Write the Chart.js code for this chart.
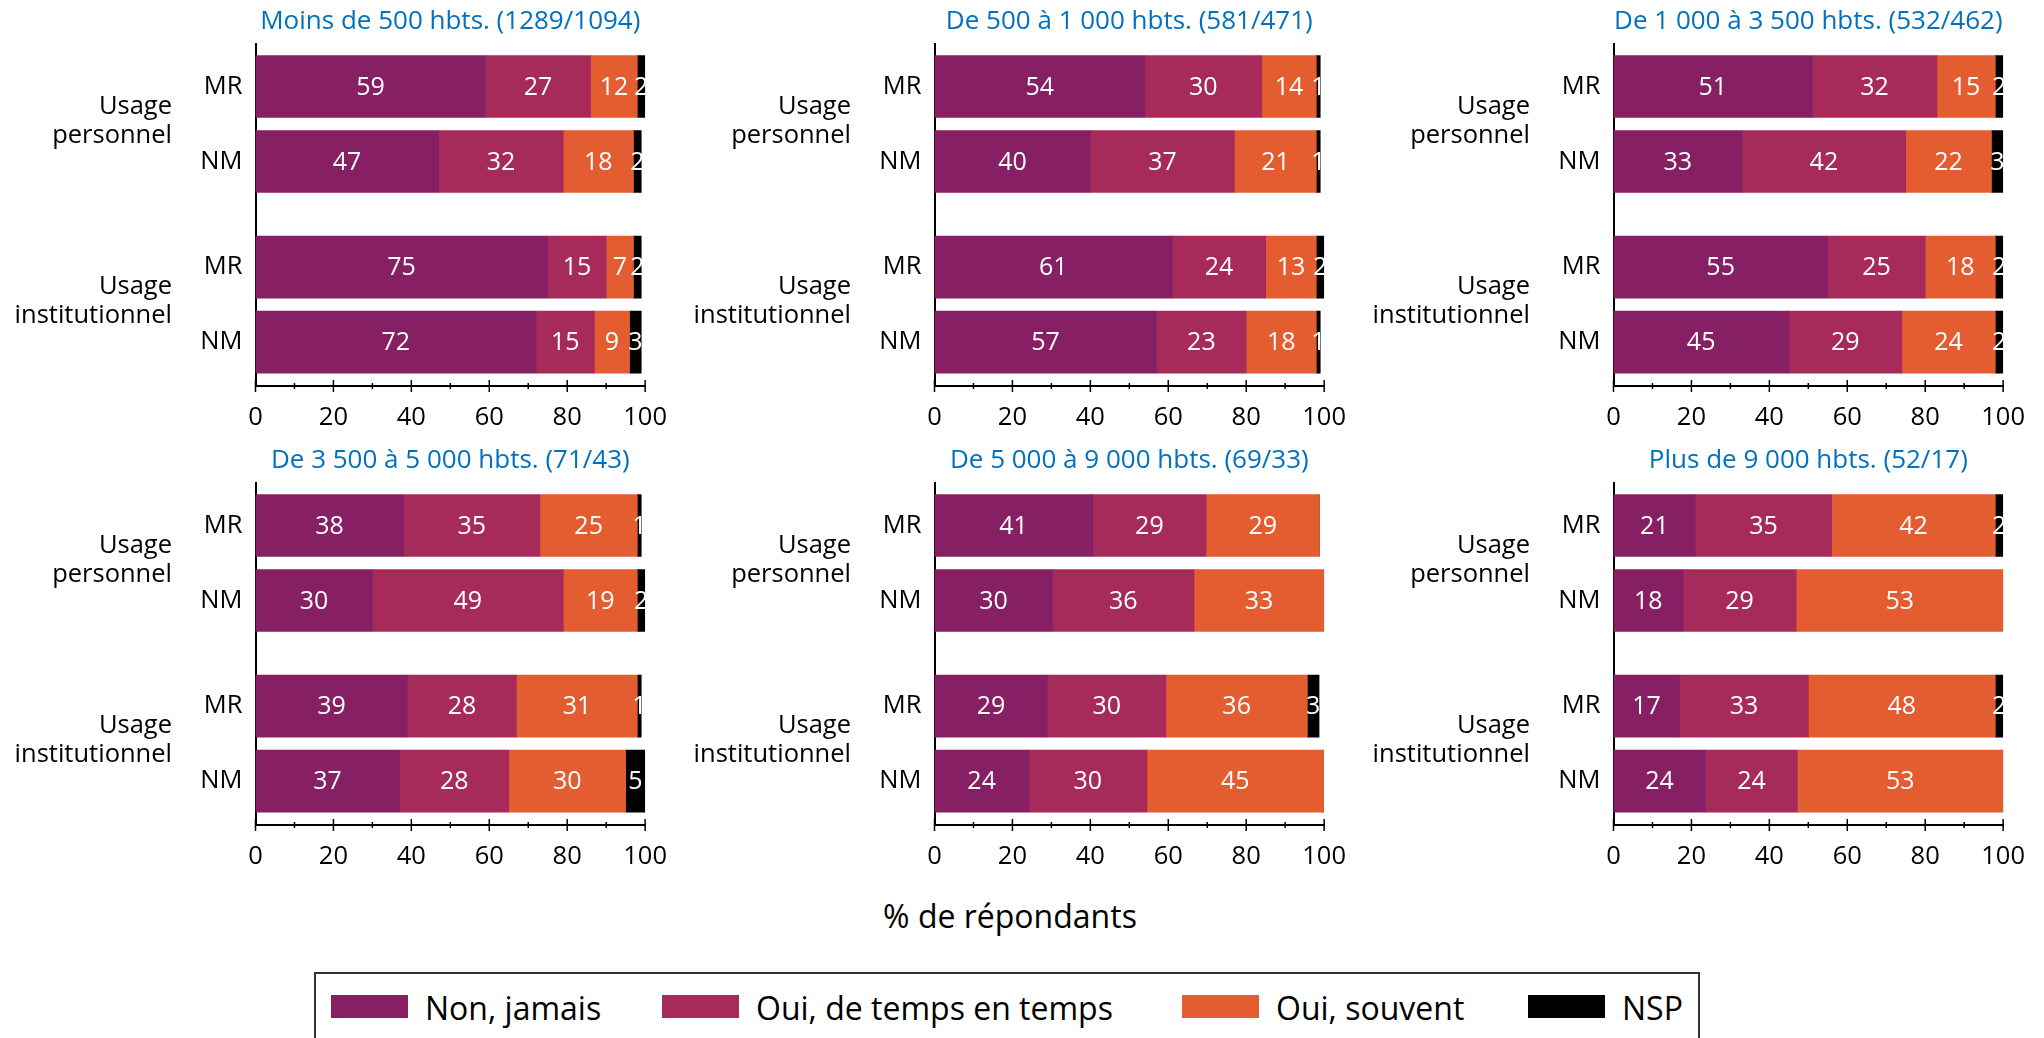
<!DOCTYPE html>
<html lang="fr">
<head>
<meta charset="utf-8">
<title>Usage selon la taille de la commune</title>
<script src="https://cdn.jsdelivr.net/npm/chart.js@4.4.1/dist/chart.umd.min.js"></script>
<style>
  html, body { margin: 0; padding: 0; background: #fff; }
  body { width: 2044px; height: 1038px; position: relative; overflow: hidden; font-family: 'Open Sans', sans-serif; }
  .panel { position: absolute; width: 683px; height: 440px; }
  #xtitle { position: absolute; left: 0; width: 2020px; top: 894px; line-height: 44px; text-align: center; font-size: 32px; color: #000; }
  #legend { position: absolute; left: 314px; top: 972px; width: 1386px; height: 90px; border: 2px solid #333; box-sizing: border-box; }
  .lg-box { position: absolute; top: 21px; width: 77px; height: 23px; }
  .lg-text { position: absolute; top: 12px; line-height: 44px; font-size: 32px; color: #000; white-space: nowrap; }
</style>
</head>
<body>
<div id="xtitle">% de répondants</div>
<div id="legend"></div>
<script>
const panelTitles = [
    'Moins de 500 hbts. (1289/1094)',
    'De 500 à 1 000 hbts. (581/471)',
    'De 1 000 à 3 500 hbts. (532/462)',
    'De 3 500 à 5 000 hbts. (71/43)',
    'De 5 000 à 9 000 hbts. (69/33)',
    'Plus de 9 000 hbts. (52/17)',
];
const rowLabels = ['MR', 'NM', 'MR', 'NM'];
const groupLabels = [['Usage', 'personnel'], ['Usage', 'institutionnel']];
const seriesNames = ['Non, jamais', 'Oui, de temps en temps', 'Oui, souvent', 'NSP'];

// one row per panel: [perso MR, perso NM, instit MR, instit NM]
const nonJamais = [
    [59, 47, 75, 72],
    [54, 40, 61, 57],
    [51, 33, 55, 45],
    [38, 30, 39, 37],
    [40.6, 30.3, 29.0, 24.2],
    [21, 17.8, 17, 23.6],
];
const ouiParfois = [
    [27, 32, 15, 15],
    [30, 37, 24, 23],
    [32, 42, 25, 29],
    [35, 49, 28, 28],
    [29.1, 36.3, 30.4, 30.3],
    [35, 29.1, 33, 23.6],
];
const ouiSouvent = [
    [12, 18, 7, 9],
    [14, 21, 13, 18],
    [15, 22, 18, 24],
    [25, 19, 31, 30],
    [29.1, 33.4, 36.3, 45.4],
    [42, 53.1, 48, 52.8],
];
const nsp = [
    [2, 2, 2, 3],
    [1, 1, 2, 1],
    [2, 3, 2, 2],
    [1, 2, 1, 5],
    [0, 0, 3, 0],
    [2, 0, 2, 0],
];
const xTicks = [0, 20, 40, 60, 80, 100];

const seriesColors = ['#861F64', '#A62B5A', '#E45D30', '#000000'];
const FONT = "'Open Sans', sans-serif";
Chart.defaults.font.family = FONT;
Chart.defaults.color = '#000';

// bar centres on the index axis (gap between the two groups)
const rowPos = [0, 1, 2.407, 3.407];
const groupPos = [0.46, 2.86];
const yMin = -0.567;
const yMax = 3.993;

const segmentLabels = {
    id: 'segmentLabels',
    afterDatasetsDraw(chart) {
        const { ctx, chartArea } = chart;
        ctx.save();
        ctx.beginPath();
        ctx.rect(chartArea.left, chartArea.top, chartArea.width, chartArea.height);
        ctx.clip();
        ctx.fillStyle = '#fff';
        ctx.font = `25px ${FONT}`;
        ctx.textAlign = 'center';
        ctx.textBaseline = 'middle';
        chart.data.datasets.forEach((ds, k) => {
            chart.getDatasetMeta(k).data.forEach((bar, r) => {
                const v = ds.data[r].x;
                if (!v) return;
                const { x, base, y } = bar.getProps(['x', 'base', 'y'], true);
                ctx.fillText(String(Math.round(v)), (x + base) / 2, y + 1);
            });
        });
        ctx.restore();
    },
};

// tick marks crossing the x axis, major every 20, minor every 10
const axisTicks = {
    id: 'axisTicks',
    afterDraw(chart) {
        const xs = chart.scales.x;
        const ctx = chart.ctx;
        const y0 = chart.chartArea.bottom;
        ctx.save();
        ctx.strokeStyle = '#000';
        ctx.lineWidth = 1.5;
        xTicks.forEach((v, i) => {
            const px = xs.getPixelForValue(v);
            ctx.beginPath();
            ctx.moveTo(px, y0 - 6);
            ctx.lineTo(px, y0 + 6);
            ctx.stroke();
            if (i < xTicks.length - 1) {
                const mx = xs.getPixelForValue((v + xTicks[i + 1]) / 2);
                ctx.beginPath();
                ctx.moveTo(mx, y0 - 3);
                ctx.lineTo(mx, y0 + 3);
                ctx.stroke();
            }
        });
        ctx.restore();
    },
};

const noGrid = { display: false, drawTicks: false, tickLength: 0 };

function makePanel(i) {
    const wrap = document.createElement('div');
    wrap.className = 'panel';
    wrap.style.left = (i % 3) * 679 + 'px';
    wrap.style.top = Math.floor(i / 3) * 439 + 'px';
    const canvas = document.createElement('canvas');
    canvas.width = 683;
    canvas.height = 440;
    wrap.appendChild(canvas);
    document.body.appendChild(wrap);

    const series = [nonJamais, ouiParfois, ouiSouvent, nsp];
    const datasets = series.map((s, k) => ({
        label: seriesNames[k],
        data: s[i].map((v, r) => ({ x: v, y: rowPos[r] })),
        backgroundColor: seriesColors[k],
        borderWidth: 0,
        barThickness: 62,
    }));

    return new Chart(canvas, {
        type: 'bar',
        data: { datasets },
        options: {
            indexAxis: 'y',
            responsive: false,
            animation: false,
            devicePixelRatio: 1,
            // right edge comes from the "100" label overhang (half label + tick padding)
            layout: { padding: { left: 0, right: 0, top: 0, bottom: 0 } },
            plugins: {
                legend: { display: false },
                tooltip: { enabled: false },
                title: {
                    display: true,
                    text: panelTitles[i],
                    color: '#0070C0',
                    fullSize: false,
                    font: { size: 26, weight: 'normal', lineHeight: 1.2 },
                    padding: { top: 6, bottom: 6.8 },
                },
            },
            scales: {
                x: {
                    type: 'linear',
                    stacked: true,
                    min: 0,
                    max: 100,
                    afterBuildTicks: (s) => { s.ticks = xTicks.map((v) => ({ value: v })); },
                    afterFit: (s) => { s.height = 54; },
                    grid: noGrid,
                    border: { display: true, color: '#000', width: 2 },
                    ticks: { font: { size: 25.5 }, padding: 16, maxRotation: 0, autoSkip: false },
                },
                y: {
                    type: 'linear',
                    stacked: true,
                    offset: false,
                    reverse: true,
                    min: yMin,
                    max: yMax,
                    afterBuildTicks: (s) => { s.ticks = rowPos.map((v) => ({ value: v })); },
                    afterFit: (s) => { s.width = 75.5; },
                    grid: noGrid,
                    border: { display: true, color: '#000', width: 2 },
                    ticks: {
                        autoSkip: false,
                        font: { size: 25.5 },
                        padding: 13,
                        callback: (v, idx) => rowLabels[idx],
                    },
                },
                y2: {
                    type: 'linear',
                    position: 'left',
                    offset: false,
                    weight: 10,
                    reverse: true,
                    min: yMin,
                    max: yMax,
                    afterBuildTicks: (s) => { s.ticks = groupPos.map((v) => ({ value: v })); },
                    afterFit: (s) => { s.width = 180; },
                    grid: noGrid,
                    border: { display: false },
                    ticks: {
                        autoSkip: false,
                        font: { size: 25.5, lineHeight: 1.13 },
                        padding: 8,
                        callback: (v, idx) => groupLabels[idx],
                    },
                },
            },
        },
        plugins: [segmentLabels, axisTicks],
    });
}

panelTitles.forEach((t, i) => makePanel(i));

// legend
const legendLeft = [15, 346, 866, 1212];
const legend = document.getElementById('legend');
seriesNames.forEach((name, k) => {
    const box = document.createElement('div');
    box.className = 'lg-box';
    box.style.left = legendLeft[k] + 'px';
    box.style.background = seriesColors[k];
    const txt = document.createElement('div');
    txt.className = 'lg-text';
    txt.style.left = legendLeft[k] + 94 + 'px';
    txt.textContent = name;
    legend.appendChild(box);
    legend.appendChild(txt);
});
</script>
</body>
</html>
